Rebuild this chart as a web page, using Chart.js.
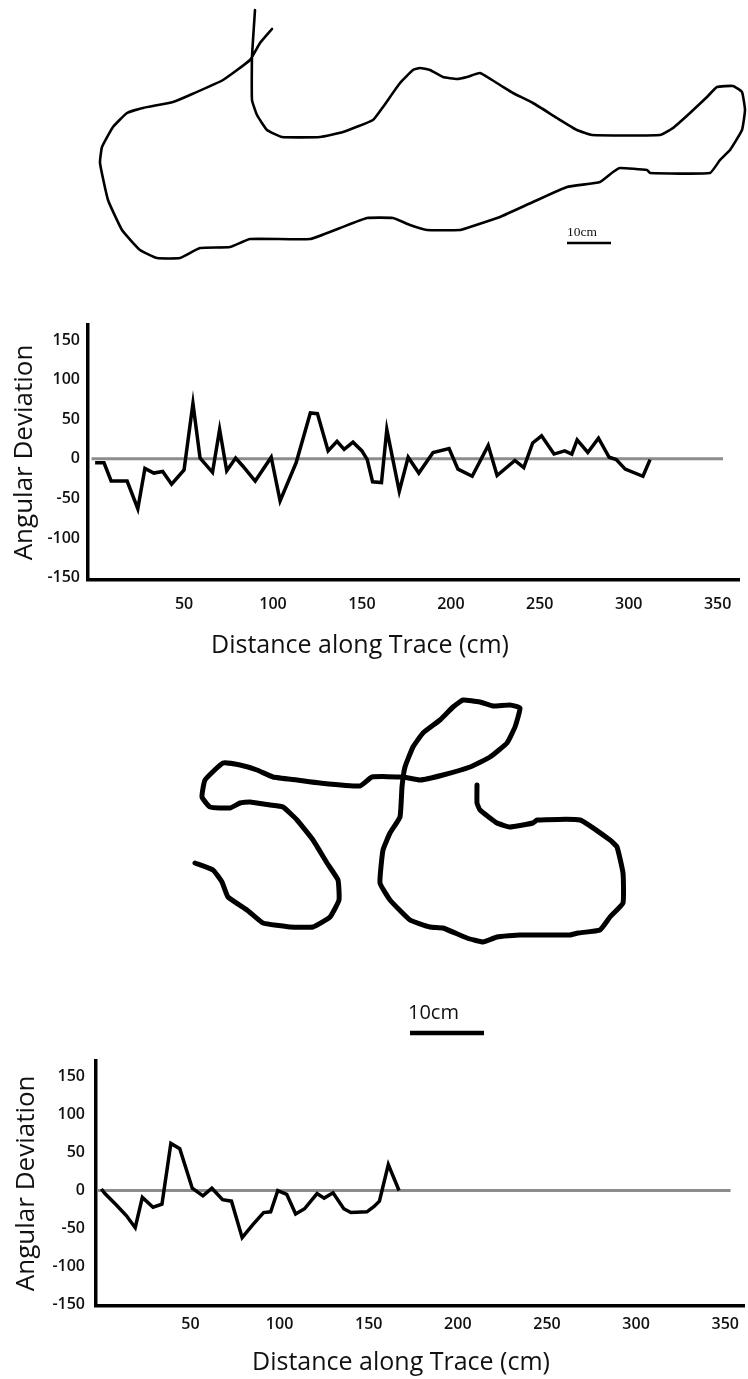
<!DOCTYPE html>
<html>
<head>
<meta charset="utf-8">
<script src="https://cdn.jsdelivr.net/npm/chart.js@4.4.0/dist/chart.umd.min.js"></script>
<style>
html,body{margin:0;padding:0;background:#fff;}
#page{position:relative;width:748px;height:1379px;overflow:hidden;background:#fff;font-family:"Open Sans",sans-serif;}
#page canvas{position:absolute;left:0;}
.lbl{position:absolute;white-space:nowrap;color:#111;line-height:1;}
</style>
</head>
<body>
<div id="page">
  <canvas id="trace1" width="748" height="290" style="top:0px"></canvas>
  <canvas id="trace2" width="748" height="400" style="top:650px"></canvas>
  <canvas id="chart1" width="748" height="360" style="top:300px"></canvas>
  <canvas id="chart2" width="748" height="339" style="top:1040px"></canvas>
  <div class="lbl" id="sb1" style="left:567px;top:225px;font-family:'Liberation Serif',serif;font-size:13.5px;"></div>
  <div class="lbl" id="sb2" style="left:408px;top:1002px;font-family:'Open Sans',sans-serif;font-size:20px;"></div>
  <div class="lbl" id="xt1" style="left:360px;top:631px;transform:translateX(-50%);font-family:'Open Sans',sans-serif;font-size:25px;"></div>
  <div class="lbl" id="xt2" style="left:401px;top:1348px;transform:translateX(-50%);font-family:'Open Sans',sans-serif;font-size:25px;"></div>
</div>
<script>
// ---------- data ----------
const axisTitleX = 'Distance along Trace (cm)';
const axisTitleY = 'Angular Deviation';
const scaleLabel = '10cm';

const xTickValues = [50, 100, 150, 200, 250, 300, 350];
const yTickValues = [-150, -100, -50, 0, 50, 100, 150];

// trace 1 angular deviation
const distance1 = [0, 5, 9, 18, 24, 28, 33, 38, 43, 50, 55, 59, 66, 70, 74, 79, 83, 90, 99, 104, 113, 121, 125, 131, 136, 140, 145, 150, 153, 156, 161, 164, 171, 176, 182, 190, 199, 204, 212, 221, 226, 236, 241, 246, 251, 258, 264, 268, 271, 277, 283, 289, 293, 298, 308, 312];
const deviation1 = [-5, -5, -28, -28, -63, -12, -18, -16, -32, -14, 70, 1, -17, 37, -15, 1, -9, -28, 2, -53, -5, 58, 57, 10, 22, 12, 21, 10, -1, -29, -30, 37, -41, 2, -18, 8, 13, -13, -22, 17, -21, -2, -11, 20, 29, 6, 10, 6, 24, 8, 26, 2, -1, -13, -22, -1];

// trace 2 angular deviation
const distance2 = [0, 2, 8, 14, 19, 23, 29, 34, 39, 44, 51, 57, 62, 68, 73, 79, 85, 91, 95, 99, 104, 109, 114, 121, 125, 130, 136, 140, 149, 153, 156, 161, 167];
const deviation2 = [2, -4, -18, -33, -49, -9, -22, -18, 62, 55, 3, -7, 3, -12, -14, -62, -45, -29, -28, 0, -5, -31, -24, -4, -10, -3, -24, -29, -28, -21, -14, 34, 0];

// zero reference line
const baselineDistance = [-2, 353];
const baselineDeviation = [0, 0];

// drawn traces (drawing units)
const trace1X = [255,252,252,257,267,282,320,343,373,383,400,413,420,430,443,457,467,480,500,513,533,557,577,592,660,673,690,707,717,733,742,745,742,730,720,710,650,647,620,613,600,567,533,500,467,460,427,410,393,367,340,310,250,230,200,180,157,140,122,108,100,102,113,127,143,173,190,223,250,260,272];
const trace1Y = [10,57,100,115,130,137,137,132,120,107,83,70,68,70,77,79,77,73,85,93,103,118,130,135,135,128,113,97,87,86,92,110,130,150,160,173,173,170,168,172,182,187,202,217,228,230,230,225,218,218,228,239,239,247,248,258,258,250,230,200,163,147,127,113,108,102,95,80,60,43,29];
const scaleBar1X = [567, 611];
const scaleBar1Y = [243, 243];

const trace2X = [195,213,222,228,247,263,290,313,330,339,338,327,313,297,283,270,250,240,230,210,202,205,223,240,257,273,297,320,360,372,403,420,443,470,490,507,515,520,510,493,480,463,453,440,423,413,405,402,400,390,383,380,390,410,430,443,467,483,497,520,570,578,600,610,623,623,617,610,580,537,533,510,497,480,477,477];
const trace2Y = [863,870,882,897,910,923,927,927,917,900,880,863,840,820,807,805,802,803,808,807,797,780,763,765,770,777,780,783,786,777,777,780,775,767,757,743,727,708,705,706,702,700,707,720,733,747,767,787,817,833,850,883,900,920,927,928,938,942,937,935,935,933,930,917,903,873,847,840,820,820,823,827,823,810,803,785];
const scaleBar2X = [410, 484];
const scaleBar2Y = [1033, 1033];

// ---------- helpers ----------
const zip = (xs, ys) => xs.map((x, i) => ({x: x, y: ys[i]}));
const FONT = '"Open Sans", sans-serif';

document.getElementById('sb1').textContent = scaleLabel;
document.getElementById('sb2').textContent = scaleLabel;
document.getElementById('xt1').textContent = axisTitleX;
document.getElementById('xt2').textContent = axisTitleX;

function traceChart(id, xs, ys, barX, barY, range, lw, barW) {
  return new Chart(document.getElementById(id), {
    type: 'scatter',
    data: { datasets: [
      { data: zip(xs, ys), showLine: true, borderColor: '#000', borderWidth: lw, pointRadius: 0,
        tension: 0.12, borderJoinStyle: 'round', borderCapStyle: 'round', clip: false },
      { data: zip(barX, barY), showLine: true, borderColor: '#000', borderWidth: barW, pointRadius: 0,
        tension: 0, clip: false }
    ]},
    options: {
      responsive: false, animation: false, events: [],
      layout: { padding: 0 },
      plugins: { legend: { display: false }, tooltip: { enabled: false } },
      scales: {
        x: { display: false, min: range.x0, max: range.x1 },
        y: { display: false, min: range.y0, max: range.y1, reverse: true }
      }
    }
  });
}

traceChart('trace1', trace1X, trace1Y, scaleBar1X, scaleBar1Y, {x0: 0, x1: 748, y0: 0, y1: 290}, 2.6, 2.5);
traceChart('trace2', trace2X, trace2Y, scaleBar2X, scaleBar2Y, {x0: 0, x1: 748, y0: 650, y1: 1050}, 5, 4.5);

function angleChart(id, xs, ys, c) {
  return new Chart(document.getElementById(id), {
    type: 'scatter',
    data: { datasets: [
      { data: zip(xs, ys), showLine: true, borderColor: '#000', borderWidth: 3.5, pointRadius: 0, tension: 0, order: 1 },
      { data: zip(baselineDistance, baselineDeviation), showLine: true, borderColor: '#8c8c8c', borderWidth: 3, pointRadius: 0, tension: 0, order: 2 }
    ]},
    options: {
      responsive: false, animation: false, events: [],
      layout: { padding: { top: c.padTop, right: c.padRight, left: 0, bottom: 0 } },
      plugins: { legend: { display: false }, tooltip: { enabled: false } },
      scales: {
        x: {
          type: 'linear', min: c.xMin, max: c.xMax,
          grid: { display: false, drawTicks: false },
          border: { display: true, color: '#000', width: 3.5 },
          ticks: { autoSkip: false, maxRotation: 0, padding: c.xPad, color: '#111',
                   font: { family: FONT, size: 16, weight: '600' }, callback: v => String(v) },
          afterBuildTicks: s => { s.ticks = xTickValues.map(v => ({ value: v })); },
          afterFit: s => { s.height = c.xHeight; }
        },
        y: {
          type: 'linear', min: c.yMin, max: c.yMax,
          grid: { display: false, drawTicks: false },
          border: { display: true, color: '#000', width: 3.5 },
          ticks: { autoSkip: false, padding: c.yPad, color: '#111',
                   font: { family: FONT, size: 16, weight: '600' }, callback: v => String(v) },
          title: { display: true, text: axisTitleY, color: '#111', font: { family: FONT, size: 26 },
                   padding: { top: c.titlePad, bottom: 0 } },
          afterBuildTicks: s => { s.ticks = yTickValues.map(v => ({ value: v })); },
          afterFit: s => { s.width = c.yWidth; }
        }
      }
    }
  });
}

angleChart('chart1', distance1, deviation1, {
  padTop: 25, padRight: 9, xHeight: 80, yWidth: 88,
  xMin: -4, xMax: 362, yMin: -153, yMax: 169, xPad: 15, yPad: 8, titlePad: 9
});
angleChart('chart2', distance2, deviation2, {
  padTop: 10, padRight: 2, xHeight: 73, yWidth: 96,
  xMin: -3, xMax: 361, yMin: -152, yMax: 171, xPad: 9, yPad: 11, titlePad: 11
});
</script>
</body>
</html>
